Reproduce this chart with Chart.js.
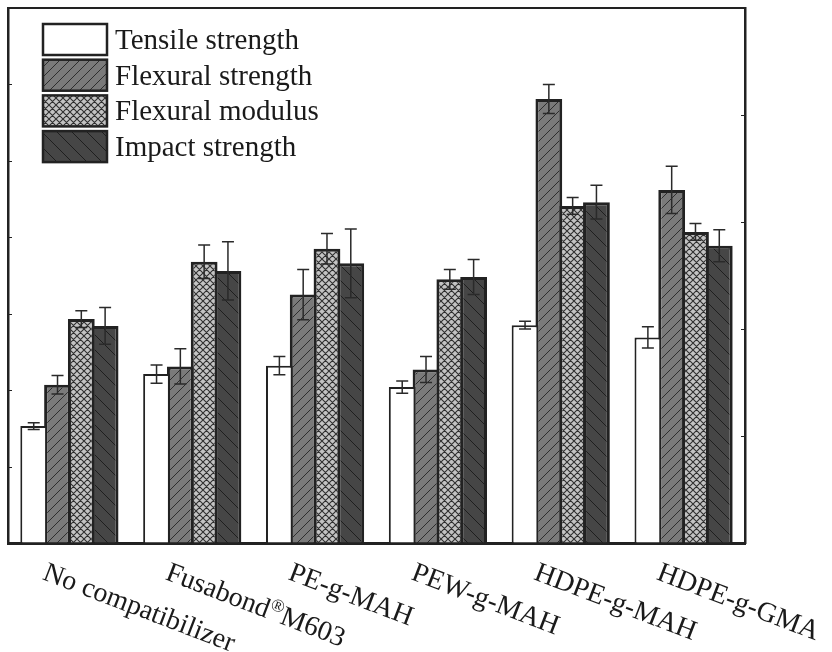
<!DOCTYPE html>
<html>
<head>
<meta charset="utf-8">
<title>Mechanical properties by compatibilizer</title>
<script src="https://cdn.jsdelivr.net/npm/chart.js@4.4.1/dist/chart.umd.min.js"></script>
<style>
  html, body { margin: 0; padding: 0; background: #fff; }
  #chart { display: block; }
</style>
</head>
<body>
<canvas id="chart" width="832" height="652"></canvas>
<script>
// Categories (x axis)
const categories = ['No compatibilizer', 'Fusabond®M603', 'PE-g-MAH', 'PEW-g-MAH', 'HDPE-g-MAH', 'HDPE-g-GMA'];

// Series values, in left-axis units (axis has no labels in the source)
const tensileStrength = [1.53, 2.21, 2.32, 2.04, 2.85, 2.69];
const flexuralStrength = [2.07, 2.31, 3.25, 2.27, 5.81, 4.62];
const flexuralModulus = [2.93, 3.68, 3.85, 3.45, 4.41, 4.07];
const impactStrength = [2.84, 3.56, 3.66, 3.48, 4.46, 3.89];

// Error bar half-lengths
const tensileErr = [0.045, 0.12, 0.12, 0.08, 0.05, 0.14];
const flexStrengthErr = [0.12, 0.23, 0.33, 0.17, 0.19, 0.31];
const flexModulusErr = [0.11, 0.22, 0.20, 0.13, 0.11, 0.11];
const impactErr = [0.24, 0.38, 0.45, 0.23, 0.22, 0.21];

// Axis ranges (left axis 7 divisions, right axis 5 divisions, no tick labels)
const leftTicks = [0, 7];
const rightTicks = [0, 5];

const seriesNames = ['Tensile strength', 'Flexural strength', 'Flexural modulus', 'Impact strength'];

const ink = '#222';
const serif = '"Liberation Serif", "Times New Roman", serif';

// hatch patterns
function makePattern(size, bg, line, dirs, lw) {
    const c = document.createElement('canvas');
    c.width = size;
    c.height = size;
    const g = c.getContext('2d');
    g.fillStyle = bg;
    g.fillRect(0, 0, size, size);
    g.strokeStyle = line;
    g.lineWidth = lw;
    g.beginPath();
    for (let k = -1; k <= 1; k++) {
        if (dirs.includes('/')) {
            g.moveTo(k * size, size);
            g.lineTo(k * size + size, 0);
        }
        if (dirs.includes('\\')) {
            g.moveTo(k * size, 0);
            g.lineTo(k * size + size, size);
        }
    }
    g.stroke();
    return document.getElementById('chart').getContext('2d').createPattern(c, 'repeat');
}

const fills = [
    '#ffffff',
    makePattern(10, '#7a7a7a', '#2e2e2e', '/', 1),
    makePattern(7, '#c3c3c3', '#303030', '/\\', 1.1),
    makePattern(15, '#464646', '#1e1e1e', '\\', 1)
];

const errors = [tensileErr, flexStrengthErr, flexModulusErr, impactErr];

const errorBars = {
    id: 'errorBars',
    afterDatasetsDraw(chart) {
        const { ctx } = chart;
        const y = chart.scales.y;
        ctx.save();
        ctx.strokeStyle = '#2a2a2a';
        ctx.lineWidth = 1.5;
        chart.data.datasets.forEach((ds, i) => {
            chart.getDatasetMeta(i).data.forEach((bar, j) => {
                const v = ds.data[j];
                const e = errors[i][j];
                const top = y.getPixelForValue(v + e);
                const bot = y.getPixelForValue(v - e);
                ctx.beginPath();
                ctx.moveTo(bar.x, top);
                ctx.lineTo(bar.x, bot);
                ctx.moveTo(bar.x - 6, top);
                ctx.lineTo(bar.x + 6, top);
                ctx.moveTo(bar.x - 6, bot);
                ctx.lineTo(bar.x + 6, bot);
                ctx.stroke();
            });
        });
        ctx.restore();
    }
};

// top frame line + inward tick marks
const frame = {
    id: 'frame',
    afterDraw(chart) {
        const { ctx, chartArea: a, scales } = chart;
        ctx.save();
        ctx.strokeStyle = ink;
        ctx.lineWidth = 2;
        ctx.beginPath();
        ctx.moveTo(a.left - 1, a.top);
        ctx.lineTo(a.right + 1, a.top);
        ctx.stroke();
        ctx.lineWidth = 1.2;
        ctx.beginPath();
        scales.y.ticks.forEach(t => {
            const py = Math.round(scales.y.getPixelForValue(t.value)) + 0.5;
            ctx.moveTo(a.left, py);
            ctx.lineTo(a.left + 4, py);
        });
        scales.y2.ticks.forEach(t => {
            const py = Math.round(scales.y2.getPixelForValue(t.value)) + 0.5;
            ctx.moveTo(a.right, py);
            ctx.lineTo(a.right - 4, py);
        });
        ctx.stroke();
        ctx.restore();
    }
};

// legend in the upper left of the plot
const boxLegend = {
    id: 'boxLegend',
    afterDraw(chart) {
        const { ctx } = chart;
        ctx.save();
        ctx.font = '29px ' + serif;
        ctx.textBaseline = 'alphabetic';
        chart.data.datasets.forEach((ds, i) => {
            const bx = 43, by = 24 + i * 35.7;
            ctx.fillStyle = ds.backgroundColor;
            ctx.fillRect(bx, by, 64, 31);
            ctx.strokeStyle = ink;
            ctx.lineWidth = 2.5;
            ctx.strokeRect(bx, by, 64, 31);
            ctx.fillStyle = '#1a1a1a';
            ctx.fillText(ds.label, 115, by + 25);
        });
        ctx.restore();
    }
};

// slanted category labels, reading downward to the right
const slantLabels = {
    id: 'slantLabels',
    afterDraw(chart) {
        const { ctx } = chart;
        const x = chart.scales.x;
        const angle = 21 * Math.PI / 180;
        ctx.save();
        ctx.fillStyle = '#1a1a1a';
        ctx.textBaseline = 'alphabetic';
        categories.forEach((label, i) => {
            ctx.save();
            ctx.translate(x.getPixelForValue(i) - 28, 579);
            ctx.rotate(angle);
            ctx.font = '28px ' + serif;
            const parts = label.split('®');
            let cx = 0;
            parts.forEach((p, k) => {
                if (k > 0) {
                    ctx.font = '18px ' + serif;
                    ctx.fillText('®', cx, -10);
                    cx += ctx.measureText('®').width;
                    ctx.font = '28px ' + serif;
                }
                ctx.fillText(p, cx, 0);
                cx += ctx.measureText(p).width;
            });
            ctx.restore();
        });
        ctx.restore();
    }
};

const seriesData = [tensileStrength, flexuralStrength, flexuralModulus, impactStrength];

new Chart(document.getElementById('chart'), {
    type: 'bar',
    data: {
        labels: categories,
        datasets: seriesData.map((d, i) => ({
            label: seriesNames[i],
            data: d,
            backgroundColor: fills[i],
            borderColor: ink,
            borderWidth: i === 0 ? 2 : 3,
            yAxisID: 'y',
            // bars overlap by one border so neighbours share an edge
            categoryPercentage: 0.775,
            barPercentage: 1.126
        }))
    },
    options: {
        responsive: false,
        animation: false,
        layout: { padding: { left: 8, right: 87, top: 8, bottom: 109 } },
        plugins: {
            legend: { display: false },
            tooltip: { enabled: false }
        },
        scales: {
            x: {
                ticks: { display: false },
                grid: { display: false, drawTicks: false },
                border: { display: true, color: ink, width: 3 },
                afterFit: (s) => { s.height = 0; }
            },
            y: {
                position: 'left',
                min: leftTicks[0],
                max: leftTicks[1],
                ticks: { display: false, stepSize: 1 },
                grid: { drawOnChartArea: false, drawTicks: false },
                border: { display: true, color: ink, width: 2.5 },
                afterFit: (s) => { s.width = 0; }
            },
            y2: {
                position: 'right',
                min: rightTicks[0],
                max: rightTicks[1],
                ticks: { display: false, stepSize: 1 },
                grid: { drawOnChartArea: false, drawTicks: false },
                border: { display: true, color: ink, width: 2.5 },
                afterFit: (s) => { s.width = 0; }
            }
        }
    },
    plugins: [errorBars, frame, boxLegend, slantLabels]
});
</script>
</body>
</html>
